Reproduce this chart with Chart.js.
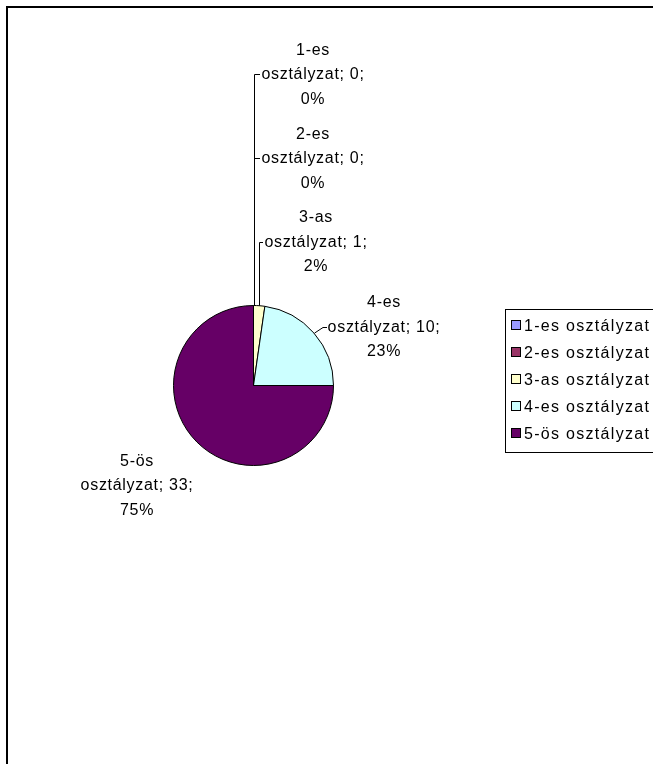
<!DOCTYPE html>
<html>
<head>
<meta charset="utf-8">
<title>Osztályzatok</title>
<style>
  html, body { margin: 0; padding: 0; background: #fff; overflow: hidden; }
  #wrap { position: relative; width: 653px; height: 764px; }
</style>
</head>
<body>
<div id="wrap"><canvas id="chart" width="653" height="764"></canvas></div>
<script src="https://cdn.jsdelivr.net/npm/chart.js"></script>
<script>
const categories = ['1-es osztályzat', '2-es osztályzat', '3-as osztályzat', '4-es osztályzat', '5-ös osztályzat'];
const counts = [0, 0, 1, 10, 33];
const sliceColors = ['#9999FF', '#993366', '#FFFFCC', '#CCFFFF', '#660066'];

// where each label block sits (centre x, first baseline) and how its leader runs
const labelSpots = [
    { x: 313, y: 54.5, leader: 'elbow' },
    { x: 313, y: 138.5, leader: 'elbow' },
    { x: 316, y: 222, leader: 'elbow' },
    { x: 384, y: 307, leader: 'direct' },
    { x: 137, y: 465.5, leader: null }
];

const FONT_FAMILY = 'Arial, "Liberation Sans", sans-serif';
const LINE_H = 24.5;
const total = counts.reduce((a, b) => a + b, 0);

const decorPlugin = {
    id: 'decor',
    beforeDraw(chart) {
        const ctx = chart.ctx;
        ctx.save();
        ctx.fillStyle = '#fff';
        ctx.fillRect(0, 0, chart.width, chart.height);
        // outer frame, its right and bottom edges fall outside the picture
        ctx.strokeStyle = '#000';
        ctx.lineWidth = 2;
        ctx.strokeRect(7, 7, 800, 900);
        ctx.restore();
    },
    afterDraw(chart) {
        const ctx = chart.ctx;
        const arcs = chart.getDatasetMeta(0).data;
        ctx.save();
        ctx.font = '16px ' + FONT_FAMILY;
        ctx.letterSpacing = '0.7px';
        ctx.fillStyle = '#000';
        ctx.strokeStyle = '#000';
        ctx.lineWidth = 1;
        ctx.textAlign = 'center';
        ctx.textBaseline = 'alphabetic';

        categories.forEach((name, i) => {
            const spot = labelSpots[i];
            const parts = name.split(' ');
            const pct = Math.round(counts[i] / total * 100);
            const lines = [parts[0], parts[1] + '; ' + counts[i] + ';', pct + '%'];
            lines.forEach((t, k) => ctx.fillText(t, spot.x, spot.y + k * LINE_H));
            if (!spot.leader) return;

            const w = ctx.measureText(lines[1]).width;
            const left = Math.round(spot.x - w / 2);
            const ty = Math.round(spot.y + LINE_H - 5) + 0.5;
            const a = arcs[i];
            const mid = (a.startAngle + a.endAngle) / 2;
            const ex = Math.round(a.x + a.outerRadius * Math.cos(mid)) + 0.5;
            const ey = a.y + a.outerRadius * Math.sin(mid);
            ctx.beginPath();
            if (spot.leader === 'elbow') {
                ctx.moveTo(left - 1, ty);
                ctx.lineTo(ex, ty);
                ctx.lineTo(ex, ey);
            } else {
                ctx.moveTo(left - 1, ty);
                ctx.lineTo(left - 5, ty);
                ctx.lineTo(ex, ey);
            }
            ctx.stroke();
        });

        // legend box (right edge cut off like in the original)
        ctx.strokeRect(505.5, 309.5, 300, 143);
        ctx.font = '16px ' + FONT_FAMILY;
        ctx.letterSpacing = '1.3px';
        ctx.textAlign = 'left';
        categories.forEach((name, i) => {
            const cy = 325 + i * 27;
            ctx.fillStyle = sliceColors[i];
            ctx.fillRect(512, cy - 4, 8, 8);
            ctx.strokeRect(511.5, cy - 4.5, 9, 9);
            ctx.fillStyle = '#000';
            ctx.fillText(name, 524, cy + 5.5);
        });
        ctx.restore();
    }
};

new Chart(document.getElementById('chart'), {
    type: 'pie',
    data: {
        labels: categories,
        datasets: [{
            data: counts,
            backgroundColor: sliceColors,
            borderColor: '#000',
            borderWidth: 1
        }]
    },
    options: {
        responsive: false,
        animation: false,
        devicePixelRatio: 1,
        layout: { padding: { left: 173, right: 319, top: 305, bottom: 298 } },
        plugins: {
            legend: { display: false },
            tooltip: { enabled: false }
        }
    },
    plugins: [decorPlugin]
});
</script>
</body>
</html>
